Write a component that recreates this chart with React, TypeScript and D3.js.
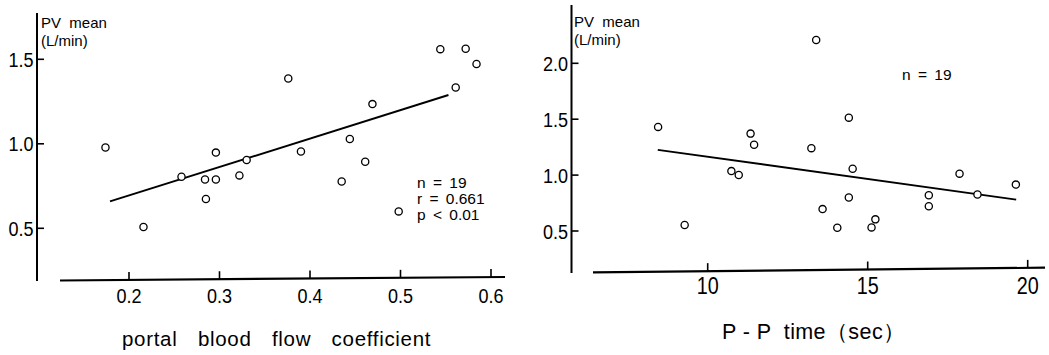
import React from "react";
import * as d3 from "d3";

// Portal vein mean flow (L/min) vs portal blood flow coefficient
const coefX = [0.174, 0.216, 0.258, 0.284, 0.285, 0.296, 0.296, 0.322, 0.33, 0.376, 0.39, 0.435, 0.444, 0.461, 0.469, 0.498, 0.544, 0.561, 0.572, 0.584];
const coefY = [0.978, 0.508, 0.805, 0.789, 0.673, 0.948, 0.789, 0.813, 0.904, 1.386, 0.954, 0.777, 1.028, 0.894, 1.235, 0.6, 1.56, 1.333, 1.562, 1.472];
const coefFit = { slope: 1.684, intercept: 0.3576, from: 0.179, to: 0.553 };
const coefTicksX = [0.2, 0.3, 0.4, 0.5, 0.6];
const coefTicksY = [0.5, 1.0, 1.5];
const coefStats = ["n = 19", "r = 0.661", "p < 0.01"];

// Portal vein mean flow (L/min) vs P-P time (sec)
const ppX = [13.39, 8.45, 11.34, 11.45, 14.41, 13.24, 14.53, 10.74, 10.97, 17.87, 19.63, 16.91, 18.43, 14.41, 16.91, 13.59, 9.28, 14.05, 15.12, 15.24];
const ppY = [2.208, 1.431, 1.371, 1.271, 1.514, 1.241, 1.057, 1.036, 1.001, 1.013, 0.915, 0.82, 0.826, 0.799, 0.722, 0.696, 0.553, 0.529, 0.532, 0.604];
const ppFit = { slope: -0.03973, intercept: 1.5613, from: 8.44, to: 19.64 };
const ppTicksX = [10, 15, 20];
const ppTicksY = [0.5, 1.0, 1.5, 2.0];
const ppStats = ["n = 19"];

const FONT = "'Liberation Sans', Arial, Helvetica, sans-serif";

type PanelProps = {
  xs: number[];
  ys: number[];
  fit: { slope: number; intercept: number; from: number; to: number };
  xTicks: number[];
  yTicks: number[];
  xFormat: (v: number) => string;
  x: d3.ScaleLinear<number, number>;
  y: d3.ScaleLinear<number, number>;
  axisX: number; // position of the vertical axis
  axisTop: number;
  axisBottom: number;
  baseLeft: [number, number]; // horizontal axis start (x, y)
  baseRight: [number, number]; // horizontal axis end (x, y)
  xLabelY: number;
  xLabelSize: number;
  yLabelSize: number;
  title: string;
  titleX: number;
  titleY: number;
  titleSize: number;
  titleWordSpacing: number;
  titleLetterSpacing: number;
  unitX: number;
  unitY: number;
  stats: string[];
  statsX: number;
  statsY: number;
  statsStep: number;
  statsSize: number;
};

function Panel(p: PanelProps) {
  const { x, y } = p;
  const baseAt = (px: number) =>
    p.baseLeft[1] + ((px - p.baseLeft[0]) / (p.baseRight[0] - p.baseLeft[0])) * (p.baseRight[1] - p.baseLeft[1]);
  const fitLine = d3
    .line<number>()
    .x((d) => x(d))
    .y((d) => y(p.fit.intercept + p.fit.slope * d));
  const points = p.xs.map((v, i) => ({ cx: x(v), cy: y(p.ys[i]) }));
  return (
    <g fontFamily={FONT} fill="#000">
      {/* vertical axis */}
      <line x1={p.axisX} x2={p.axisX} y1={p.axisTop} y2={p.axisBottom} stroke="#000" strokeWidth={2} />
      {p.yTicks.map((t) => (
        <g key={"y" + t}>
          <line x1={p.axisX} x2={p.axisX + 7} y1={y(t)} y2={y(t)} stroke="#000" strokeWidth={1.6} />
          <text
            transform={`translate(${p.axisX - 3.5},${y(t)}) scale(0.86,1)`}
            textAnchor="end"
            dy="0.36em"
            fontSize={p.yLabelSize}
          >
            {d3.format(".1f")(t)}
          </text>
        </g>
      ))}
      {/* horizontal axis */}
      <line
        x1={p.baseLeft[0]}
        y1={p.baseLeft[1]}
        x2={p.baseRight[0]}
        y2={p.baseRight[1]}
        stroke="#000"
        strokeWidth={2.2}
      />
      {p.xTicks.map((t) => (
        <g key={"x" + t}>
          <line x1={x(t)} x2={x(t)} y1={baseAt(x(t))} y2={baseAt(x(t)) - 8} stroke="#000" strokeWidth={1.6} />
          <text
            transform={`translate(${x(t)},${p.xLabelY}) scale(0.86,1)`}
            textAnchor="middle"
            fontSize={p.xLabelSize}
          >
            {p.xFormat(t)}
          </text>
        </g>
      ))}
      {/* unit label */}
      <text x={p.unitX} y={p.unitY} fontSize={15} style={{ whiteSpace: "pre" }}>
        {"PV  mean"}
      </text>
      <text x={p.unitX} y={p.unitY + 18} fontSize={15}>
        (L/min)
      </text>
      {/* axis title */}
      <text
        x={p.titleX}
        y={p.titleY}
        fontSize={p.titleSize}
        wordSpacing={p.titleWordSpacing}
        letterSpacing={p.titleLetterSpacing}
        style={{ whiteSpace: "pre" }}
      >
        {p.title}
      </text>
      {/* regression line */}
      <path d={fitLine([p.fit.from, p.fit.to]) || ""} fill="none" stroke="#000" strokeWidth={1.9} />
      {/* observations */}
      {points.map((c, i) => (
        <circle key={i} cx={c.cx} cy={c.cy} r={3.6} fill="#fff" stroke="#000" strokeWidth={1.3} />
      ))}
      {p.stats.map((s, i) => (
        <text
          key={s}
          x={p.statsX}
          y={p.statsY + i * p.statsStep}
          fontSize={p.statsSize}
          wordSpacing={3}
          style={{ whiteSpace: "pre" }}
        >
          {s}
        </text>
      ))}
    </g>
  );
}

export default function App() {
  const coefXScale = d3.scaleLinear().domain([0.2, 0.6]).range([129, 491]);
  const coefYScale = d3.scaleLinear().domain([0.5, 1.5]).range([228.3, 59.3]);
  const ppXScale = d3.scaleLinear().domain([10, 20]).range([707.7, 1027.7]);
  const ppYScale = d3.scaleLinear().domain([0.5, 2.0]).range([231, 63.3]);

  return (
    <svg
      width={1049}
      height={355}
      viewBox="0 0 1049 355"
      style={{ position: "absolute", left: 0, top: 0, background: "#fff" }}
    >
      <rect width={1049} height={355} fill="#fff" />
      <Panel
        xs={coefX}
        ys={coefY}
        fit={coefFit}
        xTicks={coefTicksX}
        yTicks={coefTicksY}
        xFormat={d3.format(".1f")}
        x={coefXScale}
        y={coefYScale}
        axisX={37}
        axisTop={13}
        axisBottom={281}
        baseLeft={[60, 280.5]}
        baseRight={[505, 277]}
        xLabelY={302.5}
        xLabelSize={21}
        yLabelSize={21}
        title="portal blood flow coefficient"
        titleX={122}
        titleY={346}
        titleSize={20.5}
        titleWordSpacing={14}
        titleLetterSpacing={0.7}
        unitX={41}
        unitY={28}
        stats={coefStats}
        statsX={417}
        statsY={188}
        statsStep={15.8}
        statsSize={15.5}
      />
      <Panel
        xs={ppX}
        ys={ppY}
        fit={ppFit}
        xTicks={ppTicksX}
        yTicks={ppTicksY}
        xFormat={d3.format("d")}
        x={ppXScale}
        y={ppYScale}
        axisX={571.5}
        axisTop={5}
        axisBottom={273}
        baseLeft={[593, 272.3]}
        baseRight={[1045, 267.7]}
        xLabelY={294}
        xLabelSize={23}
        yLabelSize={21}
        title={"P - P  time（sec）"}
        titleX={722}
        titleY={339}
        titleSize={21.5}
        titleWordSpacing={0}
        titleLetterSpacing={0.4}
        unitX={574}
        unitY={27}
        stats={ppStats}
        statsX={902}
        statsY={80}
        statsStep={16}
        statsSize={15.5}
      />
    </svg>
  );
}
